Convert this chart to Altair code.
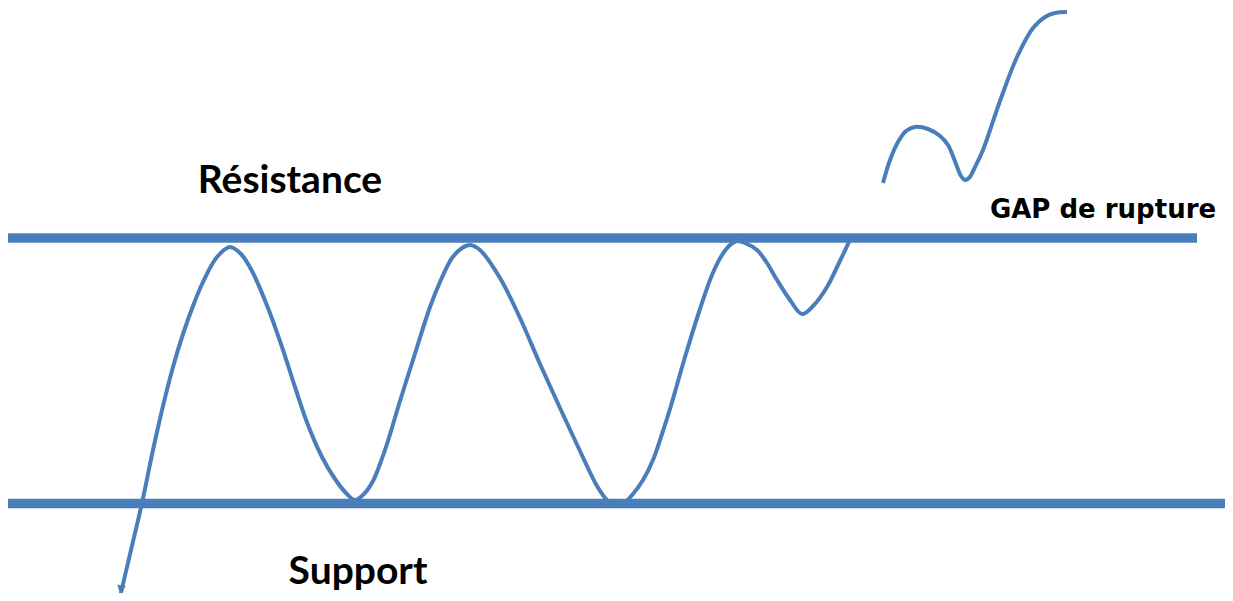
import altair as alt
import pandas as pd

# Price path (t = time, p = price)
main_t = [11.2, 12.3, 13.4, 14.5, 15.5, 16.5, 17.5, 18.5, 19.5, 20.9, 22.2, 23.3,
          24.4, 26.0, 27.4, 28.7, 30.0, 31.4, 32.7, 33.8, 34.7, 35.6, 36.5, 37.2,
          37.9, 39.2, 40.5, 42.2, 43.2, 44.4, 45.4, 46.2, 47.2, 49.2, 51.2, 53.2,
          55.2, 57.2, 58.9, 59.9, 60.8, 61.7, 62.5, 63.5, 64.5, 65.4, 66.2, 67.7,
          69.2, 70.4, 71.4, 72.2, 72.9, 73.7, 74.9, 75.9, 76.9, 78.2, 79.4, 80.6,
          81.9, 83.0, 84.0, 84.3]
main_p = [-0.8, 8.6, 18.0, 28.6, 37.4, 45.2, 51.8, 57.4, 62.2, 67.2, 69.2, 67.8,
          64.4, 57.0, 49.2, 41.2, 33.6, 27.2, 22.8, 20.0, 18.6, 19.8, 22.4, 25.8,
          29.8, 38.4, 46.6, 57.2, 62.2, 67.0, 69.0, 69.6, 68.6, 63.0, 55.0, 45.8,
          37.0, 28.4, 21.4, 18.6, 17.6, 18.2, 19.8, 22.6, 26.6, 31.8, 36.8, 47.2,
          56.8, 63.6, 67.6, 69.6, 70.4, 70.0, 68.6, 66.0, 62.6, 58.6, 55.8, 57.6,
          61.2, 65.6, 69.8, 71.2]

gap_t = [87.5, 88.2, 89.0, 89.8, 90.7, 92.0, 93.2, 94.0, 94.8, 95.3, 95.7, 96.1,
         96.7, 97.5, 99.2, 100.9, 102.5, 103.7, 104.7, 105.9]
gap_p = [82.0, 86.6, 90.2, 92.4, 93.2, 92.8, 91.4, 89.6, 85.8, 83.4, 82.6, 83.0,
         85.2, 88.6, 98.4, 107.2, 113.0, 115.2, 116.0, 116.2]

# Levels
level_names = ["Résistance", "Support"]
level_p = [71.0, 17.9]
level_t_end = [118.9, 121.7]

# Labels
label_text = ["Résistance", "Support"]
label_t = [28.2, 35.0]
label_p = [80.0, 1.8]
gap_label = ["GAP de rupture"]
gap_label_t = [109.5]
gap_label_p = [75.0]

BLUE = "#4a7ebb"
xs = alt.Scale(domain=[0, 121.7], nice=False, zero=False)
ys = alt.Scale(domain=[0, 117], nice=False, zero=False)

df_main = pd.DataFrame({"t": main_t, "p": main_p})
df_gap = pd.DataFrame({"t": gap_t, "p": gap_p})
df_lvl = pd.DataFrame({"name": level_names, "p": level_p, "t0": [0, 0], "t1": level_t_end})
df_lab = pd.DataFrame({"text": label_text, "t": label_t, "p": label_p})
df_gaplab = pd.DataFrame({"text": gap_label, "t": gap_label_t, "p": gap_label_p})
df_arrow = pd.DataFrame({"t": [main_t[0] + 0.1], "p": [main_p[0] + 1.8]})

X = lambda f: alt.X(f, type="quantitative", scale=xs, axis=None)
Y = lambda f: alt.Y(f, type="quantitative", scale=ys, axis=None)

levels = alt.Chart(df_lvl).mark_rule(color=BLUE, strokeWidth=9.5).encode(
    x=X("t0"), x2="t1", y=Y("p"))

main_line = alt.Chart(df_main).mark_line(color=BLUE, strokeWidth=4, interpolate="catmull-rom").encode(
    x=X("t"), y=Y("p"), order="t:Q")

gap_line = alt.Chart(df_gap).mark_line(color=BLUE, strokeWidth=4, interpolate="catmull-rom").encode(
    x=X("t"), y=Y("p"), order="t:Q")

arrow = alt.Chart(df_arrow).mark_point(shape="triangle", filled=True, color=BLUE, opacity=1,
                                        size=80, angle=194).encode(x=X("t"), y=Y("p"))

labels = alt.Chart(df_lab).mark_text(font="Lato", fontWeight="bold", fontSize=39,
                                     color="black", align="center", baseline="alphabetic").encode(
    x=X("t"), y=Y("p"), text="text:N")

gap_text = alt.Chart(df_gaplab).mark_text(font="DejaVu Sans", fontWeight="bold", fontSize=26,
                                          color="black", align="center", baseline="alphabetic").encode(
    x=X("t"), y=Y("p"), text="text:N")

chart = alt.layer(levels, main_line, gap_line, arrow, labels, gap_text).properties(
    width=1217, height=585, padding=0,
    autosize=alt.AutoSizeParams(type="none"),
    background="white",
).configure_view(stroke=None)

chart.save("out.html", embed_options={"renderer": "svg", "actions": False})
